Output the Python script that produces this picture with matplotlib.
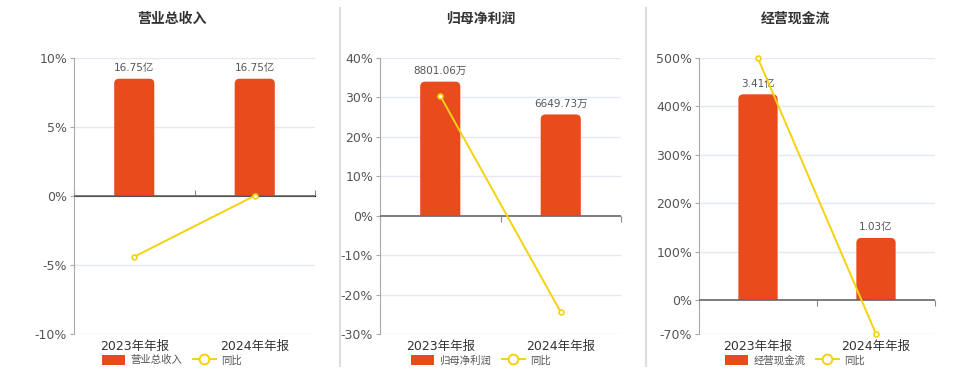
import matplotlib
matplotlib.use("Agg")
import matplotlib.pyplot as plt
from matplotlib.patches import PathPatch, Patch
from matplotlib.path import Path
from matplotlib.lines import Line2D

plt.rcParams['font.family'] = ['DejaVu Sans', 'Noto Sans CJK SC']

# ---- data ----
categories = ['2023年年报', '2024年年报']

revenue = [16.75, 16.75]          # 亿
revenue_yoy = [-4.4, 0.02]        # %
revenue_labels = ['16.75亿', '16.75亿']

net_profit = [8801.06, 6649.73]   # 万
net_profit_yoy = [30.4, -24.44]
net_profit_labels = ['8801.06万', '6649.73万']

cash_flow = [3.41, 1.03]          # 亿
cash_flow_yoy = [499.0, -69.8]
cash_flow_labels = ['3.41亿', '1.03亿']

panels = [
    dict(title='营业总收入', bars=revenue, yoy=revenue_yoy, labels=revenue_labels,
         ylim=(-10, 10), yticks=[-10, -5, 0, 5, 10]),
    dict(title='归母净利润', bars=net_profit, yoy=net_profit_yoy, labels=net_profit_labels,
         ylim=(-30, 40), yticks=[-30, -20, -10, 0, 10, 20, 30, 40]),
    dict(title='经营现金流', bars=cash_flow, yoy=cash_flow_yoy, labels=cash_flow_labels,
         ylim=(-70, 500), yticks=[-70, 0, 100, 200, 300, 400, 500]),
]

BAR_COLOR = '#E84C1C'
LINE_COLOR = '#F5D210'
GRID_COLOR = '#E3E8F2'
TEXT_COLOR = '#555555'

W, H = 960, 372
fig = plt.figure(figsize=(W / 100, H / 100), dpi=100)

# axes boxes in pixels: left, right, top, bottom
boxes = [(74, 315, 58, 334), (380, 621, 58, 334), (699, 935, 58, 334)]
centers = [172, 481, 795]


def px(x, y):
    return x / W, 1 - y / H


def top_rounded_path(x0, y0, w, h, rx, ry):
    x1, y1 = x0 + w, y0 + h
    verts = [(x0, y0), (x0, y1 - ry), (x0, y1), (x0 + rx, y1),
             (x1 - rx, y1), (x1, y1), (x1, y1 - ry), (x1, y0), (x0, y0)]
    codes = [Path.MOVETO, Path.LINETO, Path.CURVE3, Path.CURVE3,
             Path.LINETO, Path.CURVE3, Path.CURVE3, Path.LINETO, Path.CLOSEPOLY]
    return Path(verts, codes)


for p, (l, r, t, b), cx in zip(panels, boxes, centers):
    x0, y1 = px(l, t)
    x1, y0 = px(r, b)
    rect = [x0, y0, x1 - x0, y1 - y0]

    ax = fig.add_axes(rect)
    ymin, ymax = p['ylim']
    ax.set_xlim(-0.5, 1.5)
    ax.set_ylim(ymin, ymax)
    ax.set_yticks(p['yticks'])
    ax.set_yticklabels([f'{v}%' for v in p['yticks']])
    ax.tick_params(axis='y', length=3, color='#AAAAAA', labelsize=9,
                   labelcolor=TEXT_COLOR, pad=2)
    ax.set_xticks(range(len(categories)))
    ax.set_xticklabels(categories)
    ax.tick_params(axis='x', length=0, labelsize=9, labelcolor='#333333', pad=4)
    for s in ['top', 'right', 'bottom']:
        ax.spines[s].set_visible(False)
    ax.spines['left'].set_color('#AAAAAA')
    for v in p['yticks']:
        if v != 0:
            ax.axhline(v, color=GRID_COLOR, lw=1, zorder=0)

    # bars on their own hidden scale, zero aligned with the percent axis
    ax2 = fig.add_axes(rect, sharex=ax)
    ax2.set_axis_off()
    top = max(p['bars']) / 0.85
    bottom = top * ymin / ymax
    ax2.set_ylim(bottom, top)
    bars = ax2.bar(range(len(p['bars'])), p['bars'], width=0.333, color=BAR_COLOR)
    x_per_px = 2.0 / (r - l)
    y_per_px = (top - bottom) / (b - t)
    for bar, lab in zip(bars, p['labels']):
        bx, by = bar.get_x(), bar.get_y()
        bw, bh = bar.get_width(), bar.get_height()
        bar.set_visible(False)
        ax2.add_patch(PathPatch(top_rounded_path(bx, by, bw, bh,
                                                 5 * x_per_px, 5 * y_per_px),
                                fc=BAR_COLOR, ec='none'))
        ax2.annotate(lab, (bx + bw / 2, by + bh), xytext=(0, 4),
                     textcoords='offset points', ha='center', va='bottom',
                     fontsize=7.5, color=TEXT_COLOR)

    # year-over-year line on the percent scale
    ax3 = fig.add_axes(rect, sharex=ax)
    ax3.set_axis_off()
    ax3.set_ylim(ymin, ymax)
    ax3.axhline(0, color='#666666', lw=1.2, zorder=1)
    ax3.plot(range(len(p['yoy'])), p['yoy'], color=LINE_COLOR, lw=1.4,
             marker='o', ms=3.5, mfc='white', mec=LINE_COLOR, mew=1.2,
             zorder=3, clip_on=False)
    zero_frac = -ymin / (ymax - ymin)
    sec = ax.secondary_xaxis(zero_frac)
    sec.set_xticks([-0.5, 0.5, 1.5])
    sec.set_xticklabels([])
    sec.tick_params(length=4, color='#888888', direction='out')
    sec.spines['bottom'].set_visible(False)

    # panel title
    tx, ty = px(cx, 19)
    fig.text(tx, ty, p['title'], ha='center', va='center', fontsize=10,
             fontweight='bold', color='#333333')

    # legend
    handles = [Patch(facecolor=BAR_COLOR, edgecolor='none'),
               Line2D([0], [0], color=LINE_COLOR, lw=1.4, marker='o', ms=7,
                      mfc='white', mec=LINE_COLOR, mew=1.4)]
    lx, ly = px(cx, 360)
    fig.legend(handles, [p['title'], '同比'], loc='center', bbox_to_anchor=(lx, ly),
               ncol=2, frameon=False, fontsize=7.5, labelcolor=TEXT_COLOR,
               handlelength=2.2, handleheight=1.2, columnspacing=1.0,
               handletextpad=0.5, borderpad=0)

# panel separators
for sx in [340, 645.5]:
    fig.add_artist(Line2D([sx / W, sx / W], [1 - 8 / H, 1 - 366 / H],
                          transform=fig.transFigure, color='#DDDDDD', lw=1.5))

fig.savefig('out.png', dpi=100)
